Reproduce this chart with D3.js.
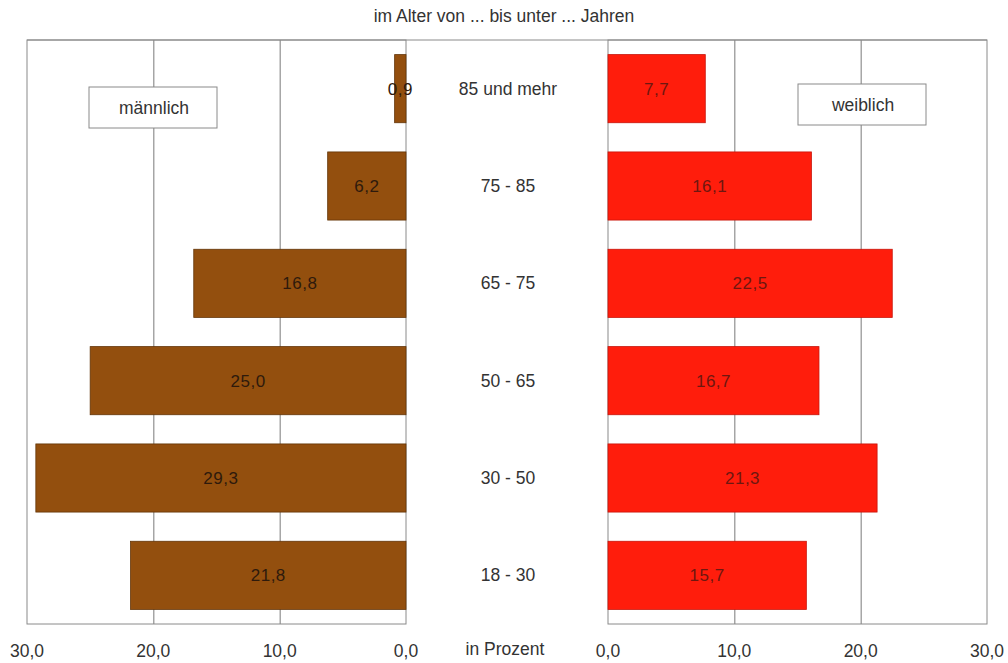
<!DOCTYPE html>
<html>
<head>
<meta charset="utf-8">
<script src="https://cdn.jsdelivr.net/npm/d3@7"></script>
<style>
  body { margin: 0; background: #fff; }
  text { font-family: "Liberation Sans", Arial, sans-serif; fill: #333; }
  .grid line { stroke: #7a7a7a; stroke-width: 1; }
  .grid path { display: none; }
</style>
</head>
<body>
<div id="chart"></div>
<script>
// data
var ageGroups = ["85 und mehr", "75 - 85", "65 - 75", "50 - 65", "30 - 50", "18 - 30"];
var maleValues = [0.9, 6.2, 16.8, 25.0, 29.3, 21.8];
var femaleValues = [7.7, 16.1, 22.5, 16.7, 21.3, 15.7];
var tickValues = [0, 10, 20, 30];

var W = 1008, H = 663;
var plotTop = 40, plotBottom = 624;
var leftPanel = {x0: 27, x1: 406},
    rightPanel = {x0: 608, x1: 987};

var fmt = function(v) { return d3.format(".1f")(v).replace(".", ","); };

var svg = d3.select("#chart").append("svg")
    .attr("width", W)
    .attr("height", H);

// scales
var y = d3.scaleBand()
    .domain(ageGroups)
    .range([plotTop, plotBottom])
    .paddingInner(0.3)
    .paddingOuter(0.15);

var xL = d3.scaleLinear().domain([0, 30]).range([leftPanel.x1, leftPanel.x0]);
var xR = d3.scaleLinear().domain([0, 30]).range([rightPanel.x0, rightPanel.x1]);

// title
svg.append("text")
    .attr("x", 504)
    .attr("y", 22)
    .attr("text-anchor", "middle")
    .style("font-size", "17.5px")
    .text("im Alter von ... bis unter ... Jahren");

// gridlines
svg.append("g")
    .attr("class", "grid")
    .attr("transform", "translate(0," + plotBottom + ")")
    .call(d3.axisBottom(xL).tickValues([10, 20]).tickSize(-(plotBottom - plotTop)).tickFormat(""));

svg.append("g")
    .attr("class", "grid")
    .attr("transform", "translate(0," + plotBottom + ")")
    .call(d3.axisBottom(xR).tickValues([10, 20]).tickSize(-(plotBottom - plotTop)).tickFormat(""));

// panel frames
[leftPanel, rightPanel].forEach(function(p) {
  svg.append("rect")
      .attr("x", p.x0)
      .attr("y", plotTop)
      .attr("width", p.x1 - p.x0)
      .attr("height", plotBottom - plotTop)
      .attr("fill", "none")
      .attr("stroke", "#8a8a8a")
      .attr("stroke-width", 1);
});
svg.append("line")
    .attr("x1", leftPanel.x0).attr("x2", rightPanel.x1)
    .attr("y1", plotTop).attr("y2", plotTop)
    .attr("stroke", "#8a8a8a");

// male bars
svg.selectAll(".male")
    .data(maleValues)
    .enter().append("rect")
    .attr("class", "male")
    .attr("x", function(d) { return xL(d); })
    .attr("y", function(d, i) { return y(ageGroups[i]); })
    .attr("width", function(d) { return xL(0) - xL(d); })
    .attr("height", y.bandwidth())
    .attr("fill", "#934f0e")
    .attr("stroke", "#633508")
    .attr("stroke-width", 0.8);

// female bars
svg.selectAll(".female")
    .data(femaleValues)
    .enter().append("rect")
    .attr("class", "female")
    .attr("x", xR(0))
    .attr("y", function(d, i) { return y(ageGroups[i]); })
    .attr("width", function(d) { return xR(d) - xR(0); })
    .attr("height", y.bandwidth())
    .attr("fill", "#ff1d0c")
    .attr("stroke", "#c8140a")
    .attr("stroke-width", 0.8);

// value labels
svg.selectAll(".mlabel")
    .data(maleValues)
    .enter().append("text")
    .attr("class", "mlabel")
    .attr("x", function(d) { return (xL(d) + xL(0)) / 2; })
    .attr("y", function(d, i) { return y(ageGroups[i]) + y.bandwidth() / 2 + 6; })
    .attr("text-anchor", "middle")
    .style("font-size", "17px")
    .style("letter-spacing", "0.5px")
    .style("fill", "#2e1a0c")
    .text(fmt);

svg.selectAll(".flabel")
    .data(femaleValues)
    .enter().append("text")
    .attr("class", "flabel")
    .attr("x", function(d) { return (xR(d) + xR(0)) / 2; })
    .attr("y", function(d, i) { return y(ageGroups[i]) + y.bandwidth() / 2 + 6; })
    .attr("text-anchor", "middle")
    .style("font-size", "17px")
    .style("letter-spacing", "0.5px")
    .style("fill", "#6e1710")
    .text(fmt);

// category labels
svg.selectAll(".cat")
    .data(ageGroups)
    .enter().append("text")
    .attr("class", "cat")
    .attr("x", (leftPanel.x1 + rightPanel.x0) / 2 + 1)
    .attr("y", function(d) { return y(d) + y.bandwidth() / 2 + 6; })
    .attr("text-anchor", "middle")
    .style("font-size", "17.5px")
    .text(function(d) { return d; });

// axis tick labels
svg.selectAll(".ltick")
    .data(tickValues)
    .enter().append("text")
    .attr("class", "ltick")
    .attr("x", function(d) { return xL(d); })
    .attr("y", 657)
    .attr("text-anchor", "middle")
    .style("font-size", "17.5px")
    .text(fmt);

svg.selectAll(".rtick")
    .data(tickValues)
    .enter().append("text")
    .attr("class", "rtick")
    .attr("x", function(d) { return xR(d); })
    .attr("y", 657)
    .attr("text-anchor", "middle")
    .style("font-size", "17.5px")
    .text(fmt);

svg.append("text")
    .attr("x", 505)
    .attr("y", 655)
    .attr("text-anchor", "middle")
    .style("font-size", "17.5px")
    .text("in Prozent");

// legend boxes
function legendBox(x, yy, label) {
  svg.append("rect")
      .attr("x", x).attr("y", yy)
      .attr("width", 128).attr("height", 41)
      .attr("fill", "#fff")
      .attr("stroke", "#8a8a8a");
  svg.append("text")
      .attr("x", x + 65).attr("y", yy + 27)
      .attr("text-anchor", "middle")
      .style("font-size", "17.5px")
      .text(label);
}
legendBox(89, 87, "männlich");
legendBox(798, 84, "weiblich");
</script>
</body>
</html>
